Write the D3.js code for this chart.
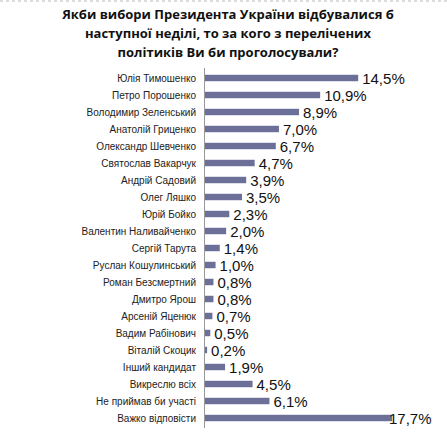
<!DOCTYPE html><html><head><meta charset="utf-8"><script src="https://cdn.jsdelivr.net/npm/d3@7"></script>
<style>body{margin:0;background:#fff}</style></head><body><svg id="c" width="447" height="438"></svg><script>
const categories=["Юлія Тимошенко","Петро Порошенко","Володимир Зеленський","Анатолій Гриценко","Олександр Шевченко","Святослав Вакарчук","Андрій Садовий","Олег Ляшко","Юрій Бойко","Валентин Наливайченко","Сергій Тарута","Руслан Кошулинський","Роман Безсмертний","Дмитро Ярош","Арсеній Яценюк","Вадим Рабінович","Віталій Скоцик","Інший кандидат","Викреслю всіх","Не приймав би участі","Важко відповісти"];
const values=[14.5,10.9,8.9,7.0,6.7,4.7,3.9,3.5,2.3,2.0,1.4,1.0,0.8,0.8,0.7,0.5,0.2,1.9,4.5,6.1,17.7];
const titleLines=["Якби вибори Президента України відбувалися б","наступної неділі, то за кого з перелічених","політиків Ви би проголосували?"];
const svg=d3.select("#c");
svg.append("line").attr("x1",0).attr("x2",447).attr("y1",1).attr("y2",1).attr("stroke","#bbb").attr("stroke-dasharray","3,3");
svg.selectAll("text.t").data(titleLines).join("text").attr("x",228).attr("y",(d,i)=>19+i*19).attr("text-anchor","middle")
 .attr("font-family","Open Sans, Liberation Sans, sans-serif").attr("font-weight","bold").attr("font-size",13).attr("fill","#111").text(d=>d);
const x=d3.scaleLinear().domain([0,17.7]).range([205,392]);
const y=d3.scaleBand().domain(categories).range([69.5,426.5]).paddingInner(0.62).paddingOuter(0.31);
svg.append("line").attr("x1",204.5).attr("x2",204.5).attr("y1",68).attr("y2",428).attr("stroke","#999");
svg.selectAll("rect").data(values).join("rect").attr("x",x(0)).attr("y",(d,i)=>y(categories[i])).attr("width",d=>x(d)-x(0)).attr("height",y.bandwidth()).attr("fill","#6c6f98");
svg.selectAll("text.c").data(categories).join("text").attr("x",196).attr("y",d=>y(d)+y.bandwidth()/2+3.5).attr("text-anchor","end")
 .attr("font-family","Liberation Sans, Arial, sans-serif").attr("font-size",10).attr("fill","#222").text(d=>d);
svg.selectAll("text.v").data(values).join("text").attr("x",d=>x(d)+(d>17?-3:4)).attr("y",(d,i)=>y(categories[i])+y.bandwidth()/2+5.5)
 .attr("font-family","Liberation Sans, Arial, sans-serif").attr("font-size",15).attr("fill","#111").text(d=>d.toFixed(1).replace(".",",")+"%");
</script></body></html>
